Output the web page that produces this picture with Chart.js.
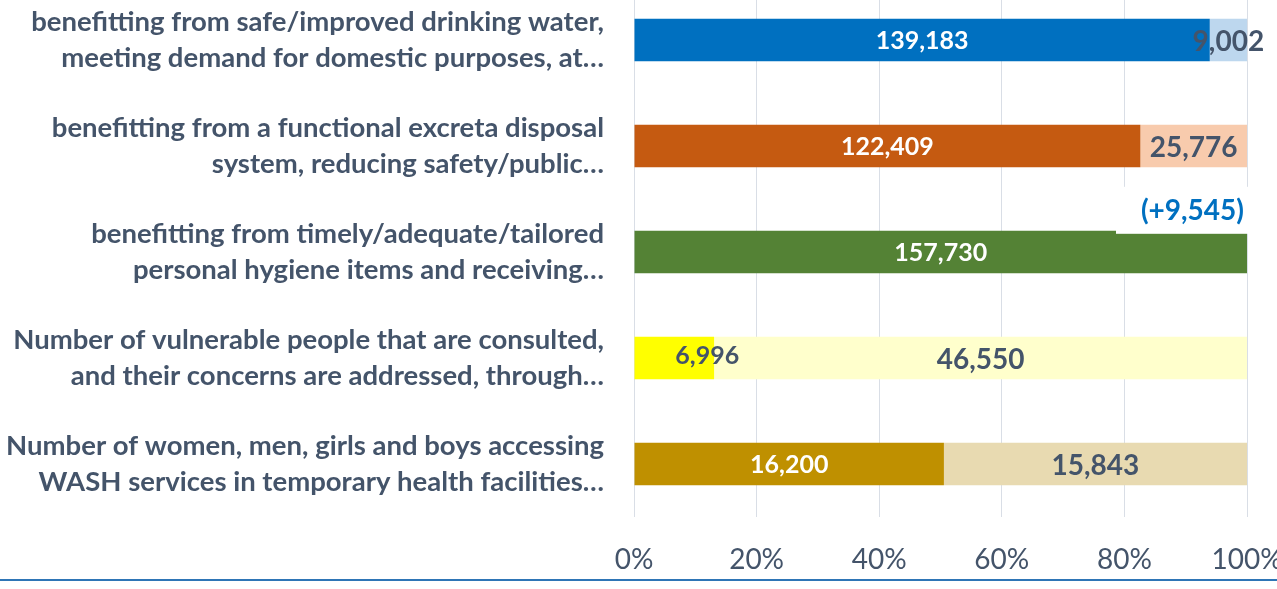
<!DOCTYPE html>
<html><head><meta charset="utf-8">
<script src="https://cdn.jsdelivr.net/npm/chart.js@4/dist/chart.umd.min.js"></script>
<style>
html,body{margin:0;padding:0;background:#fff;overflow:hidden;width:1277px;height:589px;position:relative;}
#wrap{position:absolute;left:0;top:-13px;width:1277px;height:602px;}
canvas{display:block}
</style></head><body>
<div id="wrap"><canvas id="c" width="1277" height="602"></canvas></div>
<script>
const categories = [
  ["benefitting from safe/improved drinking water,", "meeting demand for domestic purposes, at…"],
  ["benefitting from a functional excreta disposal", "system, reducing safety/public…"],
  ["benefitting from timely/adequate/tailored", "personal hygiene items and receiving…"],
  ["Number of vulnerable people that are consulted,", "and their concerns are addressed, through…"],
  ["Number of women, men, girls and boys accessing", "WASH services in temporary health facilities…"]
];
const achieved  = [139183, 122409, 157730, 6996, 16200];
const remaining = [9002, 25776, 0, 46550, 15843];
const exceeded  = [null, null, 9545, null, null];
const tickLabels = ["0%", "20%", "40%", "60%", "80%", "100%"];

const achievedColors  = ["#0070C0", "#C55A11", "#548235", "#FFFF00", "#BF9000"];
const remainingColors = ["#BDD7EE", "#F8CBAD", "#A9D18E", "#FFFFCC", "#E8DAB1"];
const achievedLabelColors = ["#FFFFFF", "#FFFFFF", "#FFFFFF", "#44546A", "#FFFFFF"];
const TXT = "#44546A";

const achievedPct  = achieved.map((v, i) => v / (v + remaining[i]) * 100);
const remainingPct = remaining.map((v, i) => v / (achieved[i] + v) * 100);
const fmt = n => n.toLocaleString("en-US");

const labelPlugin = {
  id: "valueLabels",
  afterDatasetsDraw(chart) {
    const ctx = chart.ctx;
    ctx.save();
    ctx.textAlign = "center";
    ctx.textBaseline = "middle";
    const raws = [achieved, remaining];
    const fonts = ["bold 25px Lato", "bold 28px Lato"];
    chart.data.datasets.forEach((ds, d) => {
      const meta = chart.getDatasetMeta(d);
      ctx.font = fonts[d];
      meta.data.forEach((el, i) => {
        const v = raws[d][i];
        if (!v) return;
        let cx = (el.base + el.x) / 2;
        let cy = el.y + 1;
        if (d === 0 && i === 3) { cx += 33; cy -= 3; } // label nudged as in source
        if (d === 1) cy += 1;
        ctx.fillStyle = d === 0 ? achievedLabelColors[i] : TXT;
        ctx.fillText(fmt(v), cx, cy);
      });
    });
    const meta0 = chart.getDatasetMeta(0);
    exceeded.forEach((v, i) => {
      if (v == null) return;
      const el = meta0.data[i];
      const top = el.y - el.height / 2;
      ctx.fillStyle = "#FFFFFF";
      ctx.fillRect(el.x - 131, top - 44, 170, 47);
      ctx.font = "bold 28px Lato";
      ctx.fillStyle = "#0070C0";
      ctx.textAlign = "right";
      ctx.fillText("(+" + fmt(v) + ")", el.x - 3, top - 20);
    });
    ctx.restore();
  },
  afterDraw(chart) {
    const ctx = chart.ctx;
    ctx.save();
    ctx.fillStyle = "#2E75B6";
    ctx.fillRect(0, 592, chart.width, 2);
    ctx.restore();
  }
};

new Chart(document.getElementById("c"), {
  type: "bar",
  data: {
    labels: categories,
    datasets: [
      { label: "Achieved", data: achievedPct, backgroundColor: achievedColors, borderWidth: 0 },
      { label: "Remaining", data: remainingPct, backgroundColor: remainingColors, borderWidth: 0 }
    ]
  },
  options: {
    indexAxis: "y",
    responsive: false,
    devicePixelRatio: 1,
    animation: false,
    barPercentage: 0.4,
    categoryPercentage: 1.0,
    layout: { padding: { left: 0, right: 30, top: 0, bottom: 0 } },
    plugins: { legend: { display: false }, tooltip: { enabled: false } },
    scales: {
      x: {
        stacked: true, min: 0, max: 100,
        ticks: { stepSize: 20, padding: 26, color: TXT, font: { family: "Lato", size: 28 },
                 callback: (v, i) => tickLabels[i] },
        grid: { color: "#D9DEE6", lineWidth: 1, drawTicks: false },
        border: { display: false },
        afterFit(s) { s.height = 72; s.paddingLeft = 0; s.paddingRight = 0; }
      },
      y: {
        stacked: true,
        ticks: { padding: 22, color: TXT, autoSkip: false,
                 font: { family: "Lato", size: 27.5, weight: "bold", lineHeight: 1.31 } },
        grid: { display: false },
        border: { display: false },
        afterFit(s) { s.width = 634; s.paddingTop = 0; s.paddingBottom = 0; }
      }
    }
  },
  plugins: [labelPlugin]
});
</script>
</body></html>
